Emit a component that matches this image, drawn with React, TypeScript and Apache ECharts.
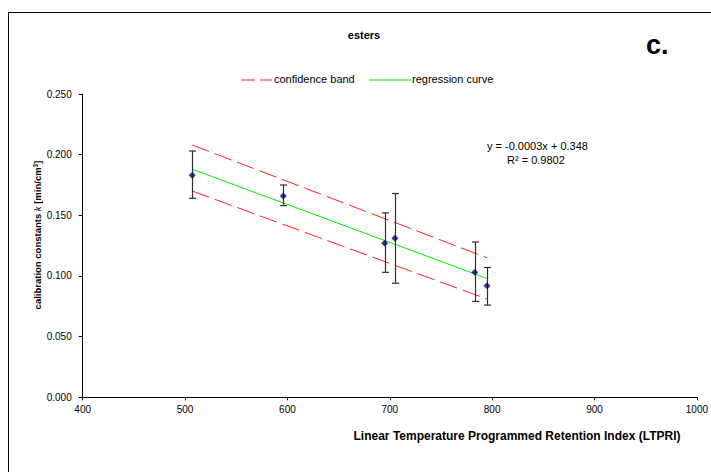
import React, { useEffect, useRef } from "react";
import * as echarts from "echarts";

const ltpri = [507, 596, 695, 705, 783, 795];
const kValues = [0.183, 0.166, 0.127, 0.131, 0.103, 0.092];
const errHigh = [0.203, 0.175, 0.152, 0.168, 0.128, 0.107];
const errLow = [0.164, 0.158, 0.103, 0.094, 0.079, 0.076];

const fitX = [507, 795];
const regression = [0.188, 0.098];
const bandUpper = [0.208, 0.115];
const bandLower = [0.170, 0.081];

const legendNames = ["confidence band", "regression curve"];

const FONT = "Liberation Sans, Arial, sans-serif";
const RED = "#ff2020";
const GREEN = "#00ee00";

export default function App() {
  const ref = useRef<HTMLDivElement>(null);
  useEffect(() => {
    if (!ref.current) return;
    const chart = echarts.init(ref.current, null, { renderer: "svg" });
    const pts = ltpri.map((x, i) => [x, kValues[i]]);
    const errData = ltpri.map((x, i) => [x, errLow[i], errHigh[i]]);
    chart.setOption({
      animation: false,
      backgroundColor: "#ffffff",
      textStyle: { fontFamily: FONT },
      grid: { left: 82.7, right: 13, top: 94, bottom: 74.7, containLabel: false },
      title: {
        text: "esters",
        left: 364,
        top: 29,
        padding: 0,
        textAlign: "center",
        textStyle: { fontSize: 11, fontWeight: "bold", color: "#000", fontFamily: FONT },
      },
      legend: { show: false },
      xAxis: {
        type: "value",
        min: 400,
        max: 1000,
        interval: 100,
        axisLine: { lineStyle: { color: "#000", width: 1 } },
        axisTick: { show: true, inside: false, length: 3, lineStyle: { color: "#000" } },
        axisLabel: { fontSize: 10, color: "#000", margin: 7, fontFamily: FONT, formatter: (v: number) => String(v) },
        splitLine: { show: false },
      },
      yAxis: {
        type: "value",
        min: 0,
        max: 0.25,
        interval: 0.05,
        axisLine: { show: true, lineStyle: { color: "#000", width: 1 } },
        axisTick: { show: true, inside: false, length: 4, lineStyle: { color: "#000" } },
        axisLabel: {
          fontSize: 10,
          color: "#000",
          margin: 11,
          fontFamily: FONT,
          formatter: (v: number) => v.toFixed(3),
        },
        splitLine: { show: false },
      },
      graphic: [
        {
          type: "rect",
          shape: { x: 8.5, y: 12.5, width: 720, height: 480 },
          style: { fill: "none", stroke: "#000", lineWidth: 1 },
          z: 0,
        },
        {
          type: "line",
          shape: { x1: 241, y1: 80, x2: 272, y2: 80 },
          style: { stroke: RED, lineWidth: 1.2, lineDash: [14, 5] },
        },
        {
          type: "text",
          left: 274,
          top: 73,
          style: { text: legendNames[0], fontSize: 11, fill: "#000", fontFamily: FONT },
        },
        {
          type: "line",
          shape: { x1: 369, y1: 80, x2: 411, y2: 80 },
          style: { stroke: GREEN, lineWidth: 1.2 },
        },
        {
          type: "text",
          left: 412,
          top: 73,
          style: { text: legendNames[1], fontSize: 11, fill: "#000", fontFamily: FONT },
        },
        {
          type: "text",
          left: 646,
          top: 31,
          style: { text: "c.", fontSize: 27, fontWeight: "bold", fill: "#000", fontFamily: FONT },
        },
        {
          type: "text",
          left: 487,
          top: 140,
          style: { text: "y = -0.0003x + 0.348", fontSize: 11, fill: "#000", fontFamily: FONT },
        },
        {
          type: "text",
          left: 507,
          top: 154,
          style: { text: "R² = 0.9802", fontSize: 11, fill: "#000", fontFamily: FONT },
        },
        {
          type: "text",
          x: 517,
          y: 436,
          style: {
            text: "Linear Temperature Programmed Retention Index (LTPRI)",
            fontSize: 12,
            fontWeight: "bold",
            fill: "#000",
            fontFamily: FONT,
            align: "center",
            verticalAlign: "middle",
          },
        },
        {
          type: "text",
          x: 37,
          y: 235,
          rotation: Math.PI / 2,
          style: {
            text: "{b|calibration constants }{i|k}{b| [min/cm}{s|3}{b|]}",
            align: "center",
            verticalAlign: "middle",
            rich: {
              b: { fontSize: 9.5, fontWeight: "bold", fill: "#000", fontFamily: FONT },
              i: { fontSize: 9.5, fontStyle: "italic", fill: "#000", fontFamily: FONT },
              s: { fontSize: 6.5, fontWeight: "bold", fill: "#000", fontFamily: FONT, verticalAlign: "top" },
            },
          },
        },
      ],
      series: [
        {
          name: legendNames[0],
          type: "line",
          data: fitX.map((x, i) => [x, bandUpper[i]]),
          symbol: "none",
          lineStyle: { color: RED, width: 1, type: [18, 6] },
          itemStyle: { color: RED },
          z: 2,
        },
        {
          name: legendNames[0],
          type: "line",
          data: fitX.map((x, i) => [x, bandLower[i]]),
          symbol: "none",
          lineStyle: { color: RED, width: 1, type: [18, 6] },
          itemStyle: { color: RED },
          z: 2,
        },
        {
          name: legendNames[1],
          type: "line",
          data: fitX.map((x, i) => [x, regression[i]]),
          symbol: "none",
          lineStyle: { color: GREEN, width: 1 },
          itemStyle: { color: GREEN },
          z: 3,
        },
        {
          name: "error",
          type: "custom",
          data: errData,
          z: 4,
          renderItem: (params: any, api: any) => {
            const x = api.value(0);
            const lo = api.coord([x, api.value(1)]);
            const hi = api.coord([x, api.value(2)]);
            const cx = Math.round(lo[0]) + 0.5;
            const w = 3.5;
            const st = { stroke: "#303030", lineWidth: 1.2 };
            return {
              type: "group",
              children: [
                { type: "line", shape: { x1: cx, y1: hi[1], x2: cx, y2: lo[1] }, style: st },
                { type: "line", shape: { x1: cx - w, y1: hi[1], x2: cx + w, y2: hi[1] }, style: st },
                { type: "line", shape: { x1: cx - w, y1: lo[1], x2: cx + w, y2: lo[1] }, style: st },
              ],
            };
          },
        },
        {
          name: "data",
          type: "scatter",
          data: pts,
          symbol: "diamond",
          symbolSize: 7,
          itemStyle: { color: "#000080" },
          z: 5,
        },
      ],
    });
    return () => chart.dispose();
  }, []);
  return (
    <div
      ref={ref}
      style={{ position: "absolute", left: 0, top: 0, width: 711, height: 472 }}
    />
  );
}
